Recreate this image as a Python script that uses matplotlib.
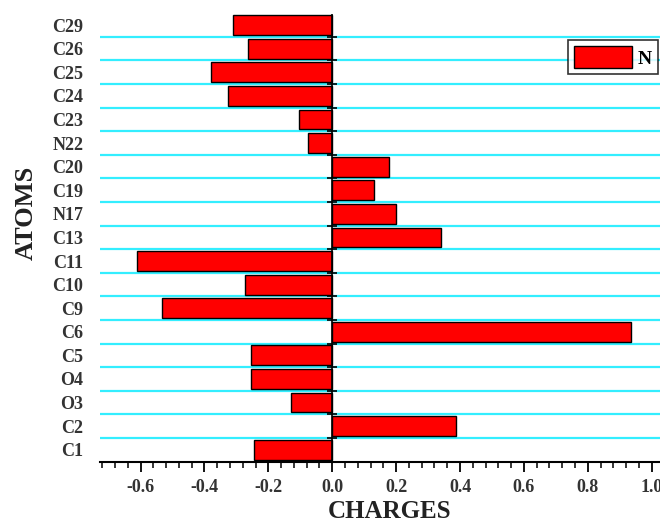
import numpy as np
import matplotlib.pyplot as plt
from matplotlib.ticker import MultipleLocator

atoms = ['C1', 'C2', 'O3', 'O4', 'C5', 'C6', 'C9', 'C10', 'C11', 'C13',
         'N17', 'C19', 'C20', 'N22', 'C23', 'C24', 'C25', 'C26', 'C29']
charges = [-0.244, 0.387, -0.129, -0.254, -0.254, 0.934, -0.532, -0.273, -0.612, 0.342,
           0.200, 0.130, 0.178, -0.075, -0.104, -0.327, -0.378, -0.263, -0.310]

plt.rcParams['font.family'] = ['Liberation Serif', 'DejaVu Serif']
plt.rcParams['font.weight'] = 'bold'

fig = plt.figure(figsize=(6.6, 5.23), dpi=100)
ax = fig.add_axes([100/660, 1 - 462/523, 1 - 100/660, (462 - 14)/523])

pos = np.arange(len(atoms))
ax.barh(pos, charges, height=0.84, color='#ff0000', edgecolor='k', linewidth=1.0,
        label='N', zorder=3)

# cyan separators between atoms
for b in pos[:-1] + 0.5:
    ax.axhline(b, color='#33eeff', lw=1.6, zorder=1)

ax.axvline(0, color='k', lw=1.2, zorder=4)
ax.plot(np.zeros(len(pos)), pos + 0.5, ls='none',
        marker='_', ms=7, mew=1.2, color='k', zorder=5)

ax.set_xlim(-0.727, 1.026)
ax.set_ylim(-0.52, 18.47)
ax.set_yticks(pos)
ax.set_yticklabels(atoms, fontsize=13, fontweight='bold')
ax.tick_params(axis='y', length=0, pad=12, colors='#333333')
ax.xaxis.set_minor_locator(MultipleLocator(0.04))
ax.tick_params(axis='x', which='major', length=7, width=1.3, labelsize=13, pad=5)
ax.tick_params(axis='x', which='minor', length=4, width=1.1)
ax.set_xticks([-0.6, -0.4, -0.2, 0.0, 0.2, 0.4, 0.6, 0.8, 1.0])
ax.set_xticklabels(['-0.6', '-0.4', '-0.2', '0.0', '0.2', '0.4', '0.6', '0.8', '1.0'],
                   fontweight='bold', color='#333333')

for s in ['top', 'right', 'left']:
    ax.spines[s].set_visible(False)
ax.spines['bottom'].set_linewidth(1.5)

fig.text(390/660, 1 - 512/523, 'CHARGES', ha='center', va='center',
         fontsize=18, fontweight='bold', color='#222222')
fig.text(26/660, 1 - 213/523, 'ATOMS', ha='center', va='center', rotation=90,
         fontsize=19, fontweight='bold', color='#222222')

leg = ax.legend(loc='upper left', bbox_to_anchor=(568/660, 1 - 40/523),
                bbox_transform=fig.transFigure, fontsize=14, frameon=True,
                fancybox=False, edgecolor='k', handlelength=3.0, handleheight=1.4,
                borderpad=0.3, handletextpad=0.3, borderaxespad=0)
leg.get_frame().set_linewidth(1.2)
for t in leg.get_texts():
    t.set_fontweight('bold')

fig.savefig('out.png', dpi=100)
